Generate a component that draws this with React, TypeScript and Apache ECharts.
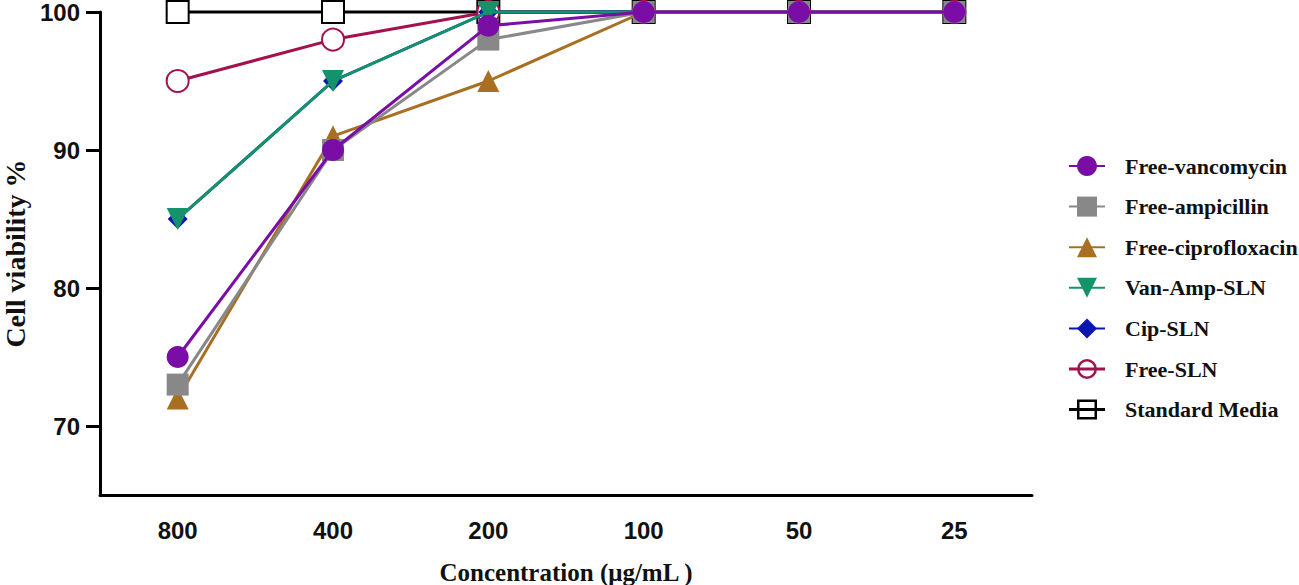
import React, { useEffect, useRef } from "react";
import * as echarts from "echarts";

const categories = ["800", "400", "200", "100", "50", "25"];
const freeVancomycin = [75, 90, 99, 100, 100, 100];
const freeAmpicillin = [73, 90, 98, 100, 100, 100];
const freeCiprofloxacin = [72, 91, 95, 100, 100, 100];
const vanAmpSLN = [85, 95, 100, 100, 100, 100];
const cipSLN = [85, 95, 100, 100, 100, 100];
const freeSLN = [95, 98, 100, 100, 100, 100];
const standardMedia = [100, 100, 100, 100, 100, 100];
const yTicks = [70, 80, 90, 100];

const ringIcon =
  "path://M8,12.5 A10,10 0 1,1 28,12.5 A10,10 0 1,1 8,12.5 Z M10.5,12.5 A7.5,7.5 0 1,0 25.5,12.5 A7.5,7.5 0 1,0 10.5,12.5 Z M0,11 L36,11 L36,14 L0,14 Z";
const boxIcon =
  "path://M8,2.5 L28,2.5 L28,22.5 L8,22.5 Z M10.5,5 L10.5,20 L25.5,20 L25.5,5 Z M0,11 L36,11 L36,14 L0,14 Z";

const seriesDefs = [
  { name: "Free-vancomycin", data: freeVancomycin, color: "#7A0DA6", symbol: "circle", rotate: 0, z: 9, icon: "" },
  { name: "Free-ampicillin", data: freeAmpicillin, color: "#888888", symbol: "rect", rotate: 0, z: 8, icon: "" },
  { name: "Free-ciprofloxacin", data: freeCiprofloxacin, color: "#A86F22", symbol: "triangle", rotate: 0, z: 7, icon: "" },
  { name: "Van-Amp-SLN", data: vanAmpSLN, color: "#14936B", symbol: "triangle", rotate: 180, z: 6, icon: "" },
  { name: "Cip-SLN", data: cipSLN, color: "#0B16B0", symbol: "diamond", rotate: 0, z: 5, icon: "" },
  { name: "Free-SLN", data: freeSLN, color: "#A3124E", symbol: "emptyCircle", rotate: 0, z: 4, icon: ringIcon },
  { name: "Standard Media", data: standardMedia, color: "#000000", symbol: "emptyRect", rotate: 0, z: 3, icon: boxIcon },
];

export default function App() {
  const ref = useRef<HTMLDivElement>(null);
  useEffect(() => {
    if (!ref.current) return;
    const chart = echarts.init(ref.current, null, { renderer: "svg" });
    chart.setOption({
      animation: false,
      backgroundColor: "#ffffff",
      grid: { left: 100, right: 267, top: 12, bottom: 90, containLabel: false, outerBoundsMode: "none" },
      legend: {
        orient: "vertical",
        left: 1063,
        top: 150,
        itemWidth: 36,
        itemHeight: 25,
        itemGap: 18.6,
        data: seriesDefs.map((s) =>
          s.icon
            ? { name: s.name, icon: s.icon, itemStyle: { color: s.color, borderWidth: 0 } }
            : { name: s.name }
        ),
        textStyle: {
          fontFamily: "Liberation Serif",
          fontWeight: "bold",
          fontSize: 22,
          color: "#111111",
          padding: [0, 0, 0, 15],
        },
      },
      xAxis: {
        type: "category",
        data: categories,
        boundaryGap: true,
        name: "Concentration (μg/mL )",
        nameLocation: "middle",
        nameGap: 65,
        nameTextStyle: {
          fontFamily: "Liberation Serif",
          fontWeight: "bold",
          fontSize: 25,
          color: "#111111",
        },
        axisLine: { lineStyle: { color: "#000", width: 3 } },
        axisTick: { alignWithLabel: true, length: 14, lineStyle: { color: "#000", width: 3 } },
        axisLabel: {
          margin: 23,
          fontFamily: "Liberation Sans",
          fontWeight: "bold",
          fontSize: 24,
          color: "#111111",
        },
        splitLine: { show: false },
      },
      yAxis: {
        type: "value",
        min: 65,
        max: 100,
        name: "Cell viability %",
        nameLocation: "middle",
        nameGap: 71,
        nameTextStyle: {
          fontFamily: "Liberation Serif",
          fontWeight: "bold",
          fontSize: 28,
          color: "#111111",
        },
        axisLine: { show: true, lineStyle: { color: "#000", width: 3 } },
        axisTick: { show: true, length: 14, customValues: yTicks, lineStyle: { color: "#000", width: 3 } },
        axisLabel: {
          customValues: yTicks,
          margin: 20,
          fontFamily: "Liberation Sans",
          fontWeight: "bold",
          fontSize: 24,
          color: "#111111",
        },
        splitLine: { show: false },
      },
      series: seriesDefs.map((s) => ({
        name: s.name,
        type: "line",
        data: s.data,
        symbol: s.symbol,
        symbolRotate: s.rotate,
        symbolSize: s.symbol === "diamond" ? 20 : 22,
        clip: false,
        z: s.z,
        color: s.color,
        lineStyle: { color: s.color, width: 3 },
        itemStyle: {
          color: s.color,
          borderColor: s.color,
          borderWidth: s.symbol.startsWith("empty") ? 2.5 : 0,
        },
      })),
    });
    return () => chart.dispose();
  }, []);
  return (
    <div
      ref={ref}
      style={{ position: "fixed", left: 0, top: 0, width: 1299, height: 585 }}
    />
  );
}
